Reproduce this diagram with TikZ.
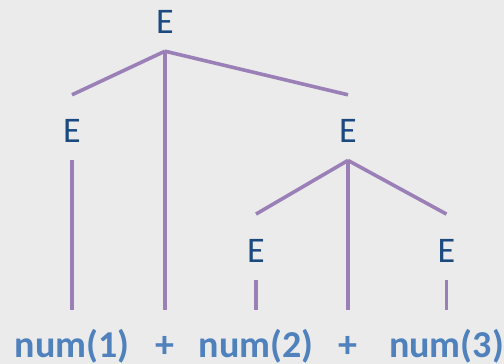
\documentclass[tikz,border=0pt]{standalone}
\usepackage{fontspec}
\setmainfont{Carlito}
\usepackage{tikz}
\definecolor{bgray}{HTML}{EBEBEB}
\definecolor{ntblue}{HTML}{1A4A80}
\definecolor{tkblue}{HTML}{4F81BD}
\definecolor{edgelilac}{HTML}{9B80B8}
\tikzstyle{nterm} = [inner sep=0pt, anchor=base, text height=47.7pt, text depth=17.5pt,
  text=ntblue, font=\fontsize{36}{40}\selectfont]
\tikzstyle{token} = [inner sep=0pt, anchor=base, text height=47pt, text depth=8pt,
  text=tkblue, font=\fontsize{38}{42}\selectfont\bfseries]
\tikzstyle{edge} = [edgelilac, line width=3.6pt]

\begin{document}
\begin{tikzpicture}[x=1pt, y=-1pt]
    \fill[bgray] (0,0) rectangle (504,364);
    \useasboundingbox (0,0) rectangle (504,364);
    \clip (0,0) rectangle (504,364);
    % nonterminals
    \node[nterm] (e0) at (165,33.5) {E};
    \node[nterm] (e1) at (72,142.7) {E};
    \node[nterm] (e2) at (348,142.7) {E};
    \node[nterm] (e3) at (256,262) {E};
    \node[nterm] (e4) at (446.5,262) {E};
    % tokens
    \node[token] (t0) at (72,357) {num(1)};
    \node[token] (t1) at (165,357) {+};
    \node[token] (t2) at (256,357) {num(2)};
    \node[token] (t3) at (348,357) {+};
    \node[token] (t4) at (446.5,357) {num(3)};
    \draw[edge] (e0.south) -- (e1.north);
    \draw[edge] (e0.south) -- (t1.north);
    \draw[edge] (e0.south) -- (e2.north);
    \draw[edge] (e1.south) -- (t0.north);
    \draw[edge] (e2.south) -- (e3.north);
    \draw[edge] (e2.south) -- (t3.north);
    \draw[edge] (e2.south) -- (e4.north);
    \draw[edge] (e3.south) -- (t2.north);
    \draw[edge] (e4.south) -- (t4.north);
  \end{tikzpicture}
\end{document}
